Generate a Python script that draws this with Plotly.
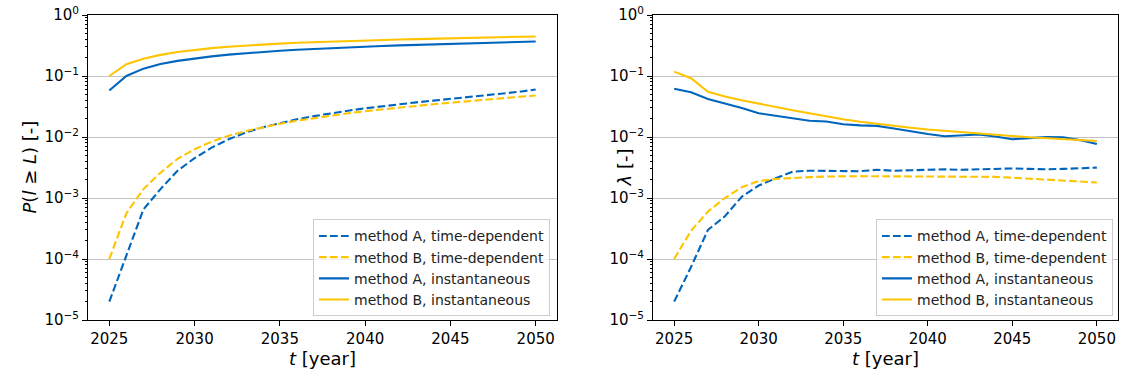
import plotly.graph_objects as go

years = list(range(2025, 2051))

# Left panel: P(l >= L)
p_A_td = [2e-5, 1.1e-4, 6.5e-4, 1.4e-3, 2.8e-3, 4.5e-3, 6.7e-3, 9.2e-3, 1.18e-2, 1.45e-2,
          1.7e-2, 1.95e-2, 2.2e-2, 2.45e-2, 2.7e-2, 2.95e-2, 3.2e-2, 3.45e-2, 3.7e-2, 3.95e-2,
          4.2e-2, 4.5e-2, 4.8e-2, 5.1e-2, 5.5e-2, 6.0e-2]
p_B_td = [1e-4, 5.6e-4, 1.4e-3, 2.6e-3, 4.4e-3, 6.3e-3, 8.4e-3, 1.05e-2, 1.25e-2, 1.45e-2,
          1.65e-2, 1.85e-2, 2.05e-2, 2.25e-2, 2.45e-2, 2.65e-2, 2.85e-2, 3.05e-2, 3.25e-2, 3.45e-2,
          3.65e-2, 3.85e-2, 4.05e-2, 4.3e-2, 4.55e-2, 4.8e-2]
p_A_in = [0.058, 0.1, 0.132, 0.157, 0.177, 0.194, 0.21, 0.224, 0.237, 0.249,
          0.26, 0.27, 0.279, 0.288, 0.296, 0.304, 0.311, 0.318, 0.325, 0.332,
          0.338, 0.344, 0.35, 0.356, 0.362, 0.368]
p_B_in = [0.1, 0.156, 0.192, 0.222, 0.247, 0.268, 0.286, 0.302, 0.316, 0.329,
          0.34, 0.35, 0.359, 0.368, 0.376, 0.383, 0.39, 0.397, 0.403, 0.409,
          0.415, 0.421, 0.427, 0.433, 0.439, 0.445]

# Right panel: lambda
l_A_td = [2e-5, 7.4e-5, 3e-4, 5e-4, 1.05e-3, 1.6e-3, 2.1e-3, 2.7e-3, 2.8e-3, 2.8e-3,
          2.75e-3, 2.75e-3, 2.9e-3, 2.8e-3, 2.85e-3, 2.9e-3, 2.95e-3, 2.9e-3, 2.95e-3, 3.0e-3,
          3.05e-3, 3.0e-3, 2.95e-3, 3.0e-3, 3.1e-3, 3.15e-3]
l_B_td = [1e-4, 2.9e-4, 6e-4, 1.0e-3, 1.5e-3, 1.9e-3, 2.05e-3, 2.15e-3, 2.2e-3, 2.25e-3,
          2.28e-3, 2.28e-3, 2.27e-3, 2.26e-3, 2.26e-3, 2.27e-3, 2.28e-3, 2.27e-3, 2.25e-3, 2.22e-3,
          2.15e-3, 2.08e-3, 2.0e-3, 1.95e-3, 1.88e-3, 1.8e-3]
l_A_in = [0.062, 0.054, 0.042, 0.036, 0.03, 0.0245, 0.0225, 0.0205, 0.0185, 0.018,
          0.0162, 0.0155, 0.0152, 0.0138, 0.0123, 0.0112, 0.0103, 0.0105, 0.011, 0.0102,
          0.0092, 0.0096, 0.01, 0.0099, 0.0089, 0.0077]
l_B_in = [0.118, 0.092, 0.055, 0.046, 0.04, 0.035, 0.031, 0.0275, 0.0245, 0.0218,
          0.0196, 0.0178, 0.0164, 0.0152, 0.0142, 0.0133, 0.0126, 0.012, 0.0114, 0.0109,
          0.0104, 0.0099, 0.0095, 0.0092, 0.0089, 0.0086]

labels = ["method A, time-dependent", "method B, time-dependent",
          "method A, instantaneous", "method B, instantaneous"]

BLUE = "#0065BD"
YELLOW = "#FFC400"
colors = [BLUE, YELLOW, BLUE, YELLOW]
dashes = ["7.7px,3.3px", "7.7px,3.3px", "solid", "solid"]

fig = go.Figure()
panels = [
    ([p_A_td, p_B_td, p_A_in, p_B_in], "x", "y", "legend"),
    ([l_A_td, l_B_td, l_A_in, l_B_in], "x2", "y2", "legend2"),
]
for series, xa, ya, lg in panels:
    for s, lab, c, d in zip(series, labels, colors, dashes):
        fig.add_trace(go.Scatter(
            x=years, y=s, mode="lines", name=lab, xaxis=xa, yaxis=ya, legend=lg,
            line=dict(color=c, width=2.1, dash=d)))

W, H = 1126, 377
left = (88 / W, 557 / W)
right = (653 / W, 1118 / W)

major_vals = [10 ** e for e in range(-5, 1)]
major_text = ["10<sup>−5</sup>", "10<sup>−4</sup>", "10<sup>−3</sup>",
              "10<sup>−2</sup>", "10<sup>−1</sup>", "10<sup>0</sup>"]
minor_vals = [k * 10 ** e for e in range(-5, 0) for k in range(2, 10)]

font_family = "DejaVu Sans"

def xaxis(domain, anchor):
    return dict(domain=domain, anchor=anchor, range=[2023.75, 2051.25],
                tickvals=[2025, 2030, 2035, 2040, 2045, 2050],
                ticks="outside", ticklen=5, tickwidth=1, tickcolor="black",
                showline=True, linecolor="black", linewidth=1, mirror=True,
                showgrid=False, zeroline=False,
                tickfont=dict(size=15, color="black"),
                title=dict(text="<i>t</i> [year]", font=dict(size=18, color="black"), standoff=3))

def yaxis(anchor):
    return dict(type="log", domain=[0, 1], anchor=anchor, range=[-5, 0],
                tickvals=major_vals, ticktext=major_text,
                ticks="outside", ticklen=5, tickwidth=1, tickcolor="black",
                minor=dict(tickvals=minor_vals, ticks="outside", ticklen=2.5,
                           tickcolor="black", showgrid=False),
                showline=True, linecolor="black", linewidth=1, mirror=True,
                showgrid=True, gridcolor="#c4c4c4", gridwidth=1, zeroline=False,
                tickfont=dict(size=15, color="black"))

legend_style = dict(bgcolor="rgba(255,255,255,0.8)", bordercolor="#cccccc", borderwidth=1,
                    font=dict(size=14, color="#222222", family=font_family),
                    xanchor="right", yanchor="bottom", tracegroupgap=0,
                    itemwidth=30)

fig.update_layout(
    width=W, height=H,
    margin=dict(l=0, r=0, t=15, b=57),
    paper_bgcolor="white", plot_bgcolor="white",
    font=dict(family=font_family, color="black"),
    xaxis=xaxis(left, "y"),
    yaxis=yaxis("x"),
    xaxis2=xaxis(right, "y2"),
    yaxis2=yaxis("x2"),
    legend=dict(x=550 / W, xref="paper", y=0.012, **legend_style),
    legend2=dict(x=1113 / W, xref="paper", y=0.012, **legend_style),
    annotations=[
        dict(text="<i>P</i>(<i>l</i> ≥ <i>L</i>) [-]", textangle=-90, xref="paper", yref="paper",
             x=29 / W, y=0.5, xanchor="center", yanchor="middle", showarrow=False,
             font=dict(size=18, color="black")),
        dict(text="<i>λ</i> [-]", textangle=-90, xref="paper", yref="paper",
             x=624 / W, y=0.5, xanchor="center", yanchor="middle", showarrow=False,
             font=dict(size=18, color="black")),
    ],
)

fig.write_html("out.html")
